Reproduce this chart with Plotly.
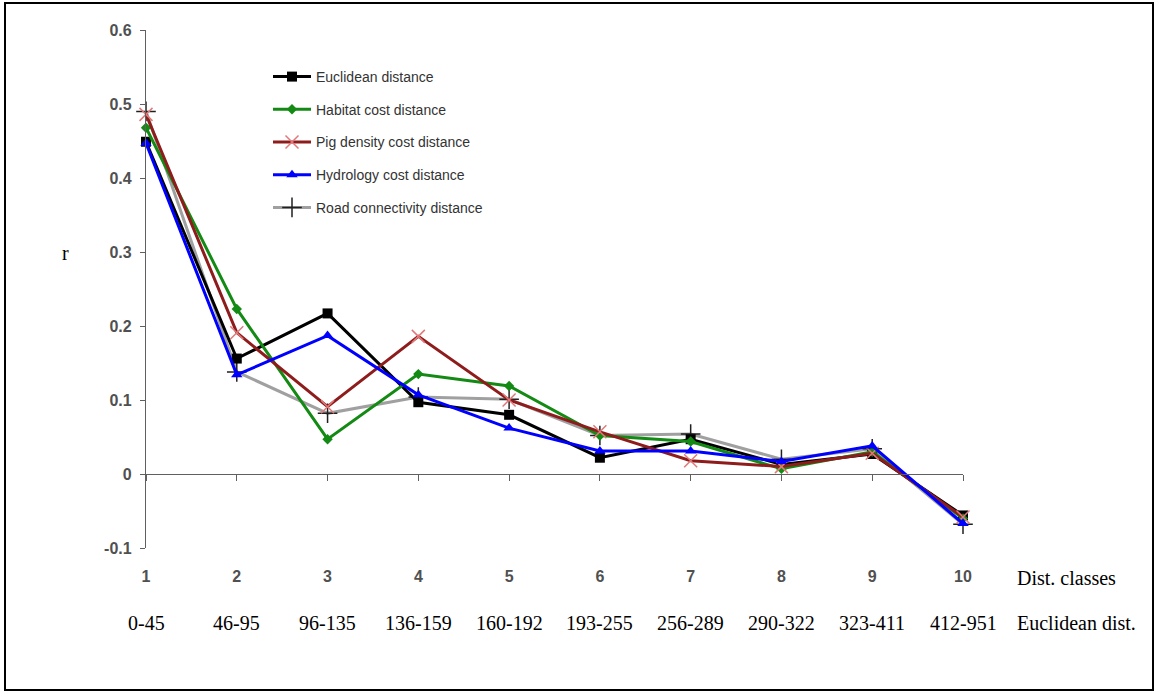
import plotly.graph_objects as go

dist_classes = [1, 2, 3, 4, 5, 6, 7, 8, 9, 10]
class_labels = ["1", "2", "3", "4", "5", "6", "7", "8", "9", "10"]
euclid_ranges = ["0-45", "46-95", "96-135", "136-159", "160-192",
                 "193-255", "256-289", "290-322", "323-411", "412-951"]

euclidean = [0.449, 0.156, 0.217, 0.097, 0.080, 0.022, 0.047, 0.013, 0.027, -0.056]
habitat = [0.468, 0.223, 0.047, 0.135, 0.119, 0.052, 0.044, 0.007, 0.030, -0.060]
pig = [0.486, 0.191, 0.091, 0.186, 0.100, 0.057, 0.018, 0.010, 0.028, -0.058]
hydrology = [0.447, 0.134, 0.187, 0.107, 0.062, 0.031, 0.031, 0.017, 0.038, -0.067]
road = [0.490, 0.138, 0.082, 0.104, 0.101, 0.052, 0.054, 0.020, 0.034, -0.068]

y_ticks = [-0.1, 0, 0.1, 0.2, 0.3, 0.4, 0.5, 0.6]
y_ticktext = ["-0.1", "0", "0.1", "0.2", "0.3", "0.4", "0.5", "0.6"]

W, H = 1157, 694
L, R, T, B = 146, 1157 - 963, 30, 694 - 548
PW, PH = W - L - R, H - T - B


def px_x(p):
    return (p - L) / PW


def px_y(p):
    return (H - B - p) / PH


series = [
    # name, data, line colour, marker symbol, marker size, marker colour, marker line, rank
    ("Road connectivity distance", road, "#a0a0a0", "cross-thin", 14, "#202020", "#202020", 5),
    ("Euclidean distance", euclidean, "#000000", "square", 10, "#000000", "#000000", 1),
    ("Habitat cost distance", habitat, "#138a13", "diamond", 8, "#138a13", "#138a13", 2),
    ("Pig density cost distance", pig, "#8e1c1c", "x-thin", 13, "#e07a7a", "#e07a7a", 3),
    ("Hydrology cost distance", hydrology, "#0000ff", "triangle-up", 10, "#0000ff", "#0000ff", 4),
]

fig = go.Figure()
for i, (name, vals, lc, sym, ms, mc, mlc, rank) in enumerate(series):
    thin = sym.endswith("-thin")
    fig.add_trace(go.Scatter(
        x=dist_classes, y=vals, name=name, mode="lines+markers",
        line=dict(color=lc, width=3),
        marker=dict(symbol=sym, size=ms, color=mc,
                    line=dict(color=mlc, width=1.5 if thin else 0)),
        cliponaxis=False, legendrank=rank, legendgroup=name,
    ))

# x-axis line crossing at y = 0
fig.add_trace(go.Scatter(x=[1, 10], y=[None, None], xaxis="x2", showlegend=False,
                         hoverinfo="skip"))

tick_font = dict(family="Liberation Sans, Arial", size=16, color="#505050", weight="bold")

fig.update_layout(
    width=W, height=H, autosize=False,
    margin=dict(l=L, r=R, t=T, b=B),
    paper_bgcolor="white", plot_bgcolor="white",
    showlegend=True,
    legend=dict(x=px_x(268), y=px_y(61), xanchor="left", yanchor="top",
                font=dict(family="Liberation Sans, Arial", size=14, color="#333333"),
                tracegroupgap=11.5, bgcolor="rgba(0,0,0,0)", itemwidth=38),
    xaxis=dict(range=[1, 10], showline=False, showgrid=False, zeroline=False,
               tickvals=dist_classes, ticktext=class_labels, ticks="",
               ticklabelstandoff=17, tickfont=tick_font),
    xaxis2=dict(range=[1, 10], overlaying="x", anchor="free", position=0.1 / 0.7,
                side="bottom", showline=True, linecolor="#606060", linewidth=1.2,
                ticks="outside", ticklen=6, tickcolor="#606060", tickvals=dist_classes,
                showticklabels=False, showgrid=False, zeroline=False),
    yaxis=dict(range=[-0.1, 0.6], showline=True, linecolor="#606060", linewidth=1.2,
               ticks="outside", ticklen=5, tickcolor="#606060",
               tickvals=y_ticks, ticktext=y_ticktext, showgrid=False, zeroline=False,
               ticklabelstandoff=5, tickfont=tick_font),
)

serif = dict(family="Liberation Serif, Times New Roman", size=20, color="#000000")
ann = [
    dict(text="r", x=px_x(65), y=px_y(253), xref="paper", yref="paper",
         xanchor="center", yanchor="middle", showarrow=False, font=serif),
    dict(text="Dist. classes", x=px_x(1015), y=px_y(578), xref="paper", yref="paper",
         xanchor="left", yanchor="middle", showarrow=False, font=serif),
    dict(text="Euclidean dist.", x=px_x(1015), y=px_y(623), xref="paper", yref="paper",
         xanchor="left", yanchor="middle", showarrow=False, font=serif),
]
for c, lab in zip(dist_classes, euclid_ranges):
    ann.append(dict(text=lab, x=c, y=px_y(623), xref="x", yref="paper",
                    xanchor="center", yanchor="middle", showarrow=False, font=serif))
fig.update_layout(annotations=ann)

# outer frame
fig.add_shape(type="rect", xref="paper", yref="paper",
              x0=px_x(5), x1=px_x(1153), y0=px_y(690), y1=px_y(3),
              line=dict(color="black", width=2))

fig.write_html("out.html", config={"displayModeBar": False},
               post_script="document.body.style.margin='0';document.body.style.overflow='hidden';")
